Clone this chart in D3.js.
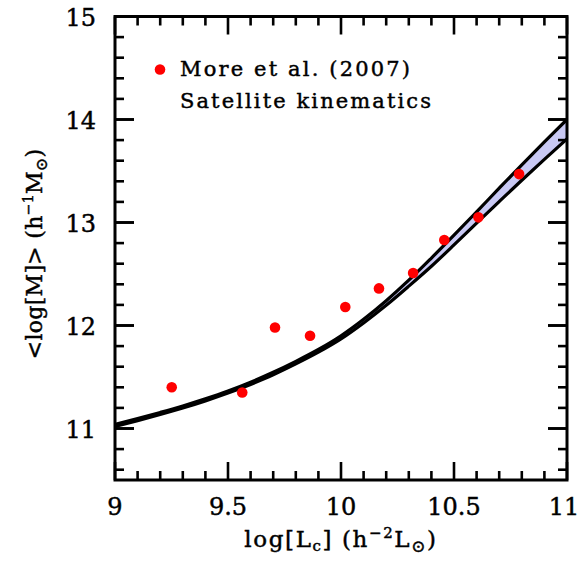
<!DOCTYPE html>
<html><head><meta charset="utf-8">
<script src="https://cdn.jsdelivr.net/npm/d3@7"></script>
<style>body{margin:0;background:#fff}svg{display:block}text{font-family:"DejaVu Serif",serif;fill:#000;stroke:#000;stroke-width:0.45px}</style>
</head><body>
<script>
// Data: More et al. (2007) satellite kinematics points
const pointsX = [9.251, 9.563, 9.708, 9.863, 10.019, 10.168, 10.319, 10.457, 10.608, 10.788];
const pointsY = [11.40, 11.35, 11.98, 11.90, 12.18, 12.36, 12.51, 12.83, 13.05, 13.47];
// Model band (upper / lower bounds)
const curveX = [9.0, 9.1, 9.2, 9.3, 9.4, 9.5, 9.6, 9.7, 9.8, 9.9, 10.0, 10.1, 10.2, 10.3, 10.4, 10.5, 10.6, 10.7, 10.8, 10.9, 11.0];
const curveUpper = [11.039, 11.096, 11.156, 11.219, 11.288, 11.364, 11.450, 11.546, 11.652, 11.767, 11.900, 12.060, 12.241, 12.440, 12.655, 12.877, 13.104, 13.333, 13.560, 13.783, 14.001];
const curveLower = [11.019, 11.076, 11.136, 11.199, 11.268, 11.344, 11.428, 11.521, 11.627, 11.741, 11.870, 12.025, 12.196, 12.382, 12.575, 12.782, 12.994, 13.203, 13.410, 13.613, 13.811];
const xTickLabels = ["9", "9.5", "10", "10.5", "11"];
const xTickValues = [9, 9.5, 10, 10.5, 11];
const yTickLabels = ["11", "12", "13", "14", "15"];
const yTickValues = [11, 12, 13, 14, 15];
const legendLabels = ["More et al. (2007)", "Satellite kinematics"];

const W = 580, H = 563;
const L = 115, R = 567, T = 16.5, B = 480;
const svg = d3.select("body").append("svg").attr("width", W).attr("height", H);
const x = d3.scaleLinear().domain([9, 11]).range([L, R]);
const y = d3.scaleLinear().domain([10.5, 15]).range([B, T]);

const defs = svg.append("defs");
defs.append("clipPath").attr("id", "clip").append("rect")
  .attr("x", L).attr("y", T).attr("width", R - L).attr("height", B - T);
const g = svg.append("g").attr("clip-path", "url(#clip)");

const band = curveX.map((d, i) => ({x: d, u: curveUpper[i], l: curveLower[i]}));
g.append("path").datum(band)
  .attr("d", d3.area().x(d => x(d.x)).y0(d => y(d.l)).y1(d => y(d.u)).curve(d3.curveMonotoneX))
  .attr("fill", "#c9c9f4").attr("stroke", "#5b5bb8").attr("stroke-width", 1);
const lineU = d3.line().x(d => x(d.x)).y(d => y(d.u)).curve(d3.curveMonotoneX);
const lineL = d3.line().x(d => x(d.x)).y(d => y(d.l)).curve(d3.curveMonotoneX);
g.append("path").datum(band).attr("d", lineU).attr("fill", "none").attr("stroke", "#000").attr("stroke-width", 3.2);
g.append("path").datum(band).attr("d", lineL).attr("fill", "none").attr("stroke", "#000").attr("stroke-width", 3.2);

g.selectAll("circle.pt").data(pointsX.map((d, i) => [d, pointsY[i]])).join("circle")
  .attr("class", "pt").attr("cx", d => x(d[0])).attr("cy", d => y(d[1])).attr("r", 5.3).attr("fill", "#ff0000");

// ticks
const tk = svg.append("g").attr("stroke", "#000").attr("stroke-width", 2.6);
const xMinor = d3.range(9, 11.0001, 0.1);
xMinor.forEach(v => {
  const major = Math.abs(v * 2 - Math.round(v * 2)) < 1e-6;
  const len = major ? 18 : 9;
  tk.append("line").attr("x1", x(v)).attr("x2", x(v)).attr("y1", B).attr("y2", B - len);
  tk.append("line").attr("x1", x(v)).attr("x2", x(v)).attr("y1", T).attr("y2", T + len);
});
const yMinor = d3.range(10.6, 15.0001, 0.2).concat(yTickValues);
yMinor.forEach(v => {
  const major = Math.abs(v - Math.round(v)) < 1e-6;
  const len = major ? 19 : 9;
  tk.append("line").attr("y1", y(v)).attr("y2", y(v)).attr("x1", L).attr("x2", L + len);
  tk.append("line").attr("y1", y(v)).attr("y2", y(v)).attr("x1", R).attr("x2", R - len);
});
svg.append("rect").attr("x", L).attr("y", T).attr("width", R - L).attr("height", B - T)
  .attr("fill", "none").attr("stroke", "#000").attr("stroke-width", 3);

// tick labels
svg.selectAll("text.xt").data(xTickValues).join("text").attr("class", "xt")
  .attr("x", d => Math.min(x(d), 564)).attr("y", 515).attr("text-anchor", "middle").attr("font-size", 24)
  .text((d, i) => xTickLabels[i]);
svg.selectAll("text.yt").data(yTickValues).join("text").attr("class", "yt")
  .attr("x", 96).attr("y", d => y(d) + 9).attr("text-anchor", "end").attr("font-size", 24)
  .text((d, i) => yTickLabels[i]);

// legend
svg.append("circle").attr("cx", 160).attr("cy", 69.5).attr("r", 5.3).attr("fill", "#ff0000");
svg.append("text").attr("x", 180).attr("y", 76).attr("font-size", 21)
  .attr("textLength", 230).attr("lengthAdjust", "spacing").text(legendLabels[0]);
svg.append("text").attr("x", 180).attr("y", 107.5).attr("font-size", 21)
  .attr("textLength", 251).attr("lengthAdjust", "spacing").text(legendLabels[1]);

// axis labels
const xl = svg.append("text").attr("x", 341).attr("y", 547).attr("text-anchor", "middle")
  .attr("font-size", 23).attr("letter-spacing", 1.6);
xl.append("tspan").text("log[L");
xl.append("tspan").attr("font-size", 15).attr("dy", 4).text("c");
xl.append("tspan").attr("dy", -4).text("]  (h");
xl.append("tspan").attr("font-size", 15).attr("dy", -9).text("−2");
xl.append("tspan").attr("dy", 9).text("L");
xl.append("tspan").attr("font-size", 17).attr("dy", 5).text("⊙");
xl.append("tspan").attr("dy", -5).text(")");

const yl = svg.append("text").attr("transform", "translate(42,254) rotate(-90)")
  .attr("text-anchor", "middle").attr("font-size", 22).attr("letter-spacing", 0.3);
yl.append("tspan").text("<log[M]>  (h");
yl.append("tspan").attr("font-size", 14).attr("dy", -9).text("−1");
yl.append("tspan").attr("dy", 9).text("M");
yl.append("tspan").attr("font-size", 16).attr("dy", 5).text("⊙");
yl.append("tspan").attr("dy", -5).text(")");
</script>
</body></html>
